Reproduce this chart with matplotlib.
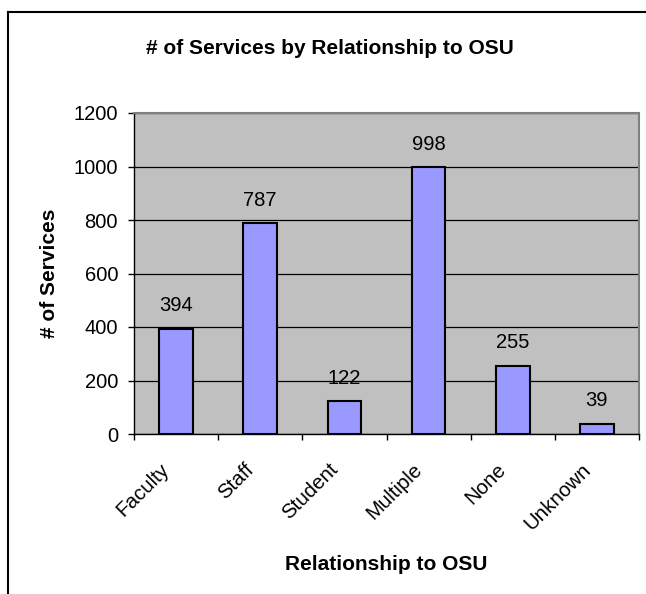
import matplotlib.pyplot as plt
from matplotlib.lines import Line2D

plt.rcParams['font.family'] = ['Liberation Sans', 'DejaVu Sans']

categories = ['Faculty', 'Staff', 'Student', 'Multiple', 'None', 'Unknown']
services = [394, 787, 122, 998, 255, 39]
yticks = [0, 200, 400, 600, 800, 1000, 1200]

W, H = 646, 594
fig = plt.figure(figsize=(W / 100, H / 100), dpi=100)

# plot area in pixel coordinates (left, top, right, bottom)
L, T, R, B = 134, 113, 639, 434
ax = fig.add_axes([L / W, 1 - B / H, (R - L) / W, (B - T) / H])
ax.set_facecolor('#c0c0c0')

x = list(range(len(categories)))
ax.bar(x, services, width=0.4, color='#9999ff', edgecolor='black', linewidth=1.5, zorder=3)
for xi, v in zip(x, services):
    ax.annotate(str(v), (xi, v), xytext=(0, 23), textcoords='offset pixels',
                ha='center', va='center', fontsize=14.5)

ax.set_xlim(-0.5, len(categories) - 0.5)
ax.set_ylim(0, 1200)
ax.set_yticks(yticks)
ax.set_yticklabels([str(t) for t in yticks], fontsize=14.5)
ax.yaxis.grid(True, color='black', linewidth=0.9, zorder=1)
ax.set_axisbelow(True)
ax.tick_params(axis='y', direction='out', length=4.5, width=1, pad=7)

# ticks on category boundaries, labels placed under the centres
ax.set_xticks([i - 0.5 for i in range(len(categories) + 1)])
ax.set_xticklabels([])
ax.tick_params(axis='x', direction='out', length=4.5, width=1)
for xi, cat in zip(x, categories):
    ax.annotate(cat, (xi, 0), xycoords=('data', 'axes fraction'),
                xytext=(-9.5, -32.5), textcoords='offset pixels',
                rotation=45, rotation_mode='anchor', ha='right', va='center',
                fontsize=14.8)

for side in ['top', 'right']:
    ax.spines[side].set_color('#808080')
    ax.spines[side].set_linewidth(1.5)
for side in ['left', 'bottom']:
    ax.spines[side].set_color('black')
    ax.spines[side].set_linewidth(1)

fig.text(55 / W, 1 - 273 / H, '# of Services', rotation=90, rotation_mode='anchor',
         ha='center', va='baseline', fontsize=15, fontweight='bold')
fig.text((L + R) / 2 / W, 1 - 570 / H, 'Relationship to OSU', ha='center', va='baseline',
         fontsize=15, fontweight='bold')
fig.text(330 / W, 1 - 54.5 / H, '# of Services by Relationship to OSU', ha='center',
         va='baseline', fontsize=15, fontweight='bold')

# chart border (top and left visible)
fig.add_artist(Line2D([8 / W, 8 / W], [0, 1 - 12 / H], color='black', linewidth=1.5,
                      transform=fig.transFigure))
fig.add_artist(Line2D([8 / W, 1], [1 - 12 / H, 1 - 12 / H], color='black', linewidth=1.5,
                      transform=fig.transFigure))

fig.savefig('out.png', dpi=100)
